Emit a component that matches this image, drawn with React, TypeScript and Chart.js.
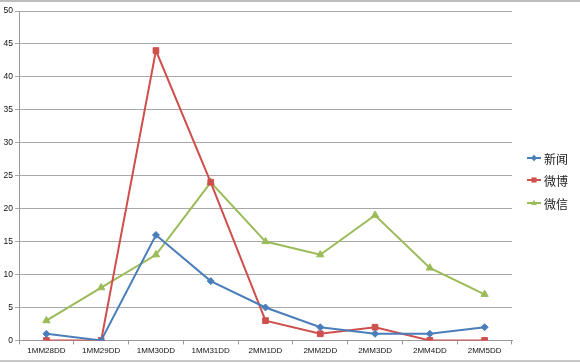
import React, { useEffect, useRef } from "react";
import { Chart, registerables } from "chart.js";

Chart.register(...registerables);

const categories = ["1MM28DD", "1MM29DD", "1MM30DD", "1MM31DD", "2MM1DD", "2MM2DD", "2MM3DD", "2MM4DD", "2MM5DD"];
const seriesNames = ["新闻", "微博", "微信"];
const newsValues = [1, 0, 16, 9, 5, 2, 1, 1, 2];
const weiboValues = [0, 0, 44, 24, 3, 1, 2, 0, 0];
const wechatValues = [3, 8, 13, 24, 15, 13, 19, 11, 7];
const yTicks = { min: 0, max: 50, step: 5 };

const colors = ["#4A7EBB", "#CF4F4D", "#9BBB59"];
const pointStyles = ["rectRot", "rect", "triangle"];
const pointRadii = [3.5, 4, 4.2];

function drawMarker(ctx: CanvasRenderingContext2D, style: string, x: number, y: number, r: number) {
  ctx.beginPath();
  if (style === "rectRot") {
    ctx.moveTo(x, y - r);
    ctx.lineTo(x + r, y);
    ctx.lineTo(x, y + r);
    ctx.lineTo(x - r, y);
  } else if (style === "rect") {
    const s = r * 0.8;
    ctx.rect(x - s, y - s, 2 * s, 2 * s);
  } else {
    ctx.moveTo(x, y - r);
    ctx.lineTo(x + r * 0.9, y + r * 0.6);
    ctx.lineTo(x - r * 0.9, y + r * 0.6);
  }
  ctx.closePath();
  ctx.fill();
}

const legendPlugin = {
  id: "excelLegend",
  afterDraw(chart: any) {
    const ctx = chart.ctx;
    const x0 = 527;
    const ys = [158, 180, 203];
    chart.data.datasets.forEach((ds: any, i: number) => {
      const y = ys[i];
      ctx.save();
      ctx.strokeStyle = ds.borderColor;
      ctx.lineWidth = 2;
      ctx.beginPath();
      ctx.moveTo(x0, y);
      ctx.lineTo(x0 + 14, y);
      ctx.stroke();
      ctx.fillStyle = ds.backgroundColor;
      drawMarker(ctx, ds.pointStyle, x0 + 7, y, 3.2);
      ctx.fillStyle = "#222";
      ctx.font = "12px 'Noto Sans CJK SC'";
      ctx.textBaseline = "middle";
      ctx.textAlign = "left";
      ctx.fillText(ds.label, x0 + 17, y + 1);
      ctx.restore();
    });
  },
};

export default function App() {
  const ref = useRef<HTMLCanvasElement>(null);
  useEffect(() => {
    if (!ref.current) return;
    const values = [newsValues, weiboValues, wechatValues];
    const chart = new Chart(ref.current, {
      type: "line",
      data: {
        labels: categories,
        datasets: seriesNames.map((name, i) => ({
          label: name,
          data: values[i],
          borderColor: colors[i],
          backgroundColor: colors[i],
          borderWidth: 2,
          pointStyle: pointStyles[i] as any,
          pointRadius: pointRadii[i],
          pointBorderWidth: 1,
          tension: 0,
        })),
      },
      plugins: [legendPlugin],
      options: {
        animation: false,
        responsive: false,
        maintainAspectRatio: false,
        layout: { padding: { left: 2, right: 68, top: 11, bottom: 5 } },
        plugins: { legend: { display: false }, tooltip: { enabled: false } },
        scales: {
          x: {
            offset: true,
            grid: {
              offset: true,
              drawOnChartArea: false,
              drawTicks: true,
              tickLength: 4,
              color: "#9a9a9a",
            },
            border: { color: "#9a9a9a", width: 1 },
            ticks: {
              color: "#111",
              font: { family: "'Liberation Sans', Arial", size: 8 },
              maxRotation: 0,
              autoSkip: false,
              padding: 2,
            },
          },
          y: {
            min: yTicks.min,
            max: yTicks.max,
            ticks: {
              stepSize: yTicks.step,
              color: "#111",
              font: { family: "'Liberation Sans', Arial", size: 8.5 },
              padding: 2,
            },
            grid: { color: "#a8a8a8", tickLength: 4, lineWidth: 1 },
            border: { color: "#9a9a9a", width: 1 },
            afterFit(scale: any) {
              scale.width = 17;
            },
          },
        },
      },
    });
    return () => chart.destroy();
  }, []);
  return (
    <div style={{ position: "fixed", left: 0, top: 0, width: 580, height: 363, background: "#fff" }}>
      <canvas ref={ref} width={580} height={363} style={{ position: "absolute", left: 0, top: 0 }} />
      <div style={{ position: "absolute", left: 0, top: 0, width: 580, height: 2, background: "#bdbdbd" }} />
      <div style={{ position: "absolute", left: 0, top: 360, width: 580, height: 2, background: "#c8c8c8" }} />
    </div>
  );
}
